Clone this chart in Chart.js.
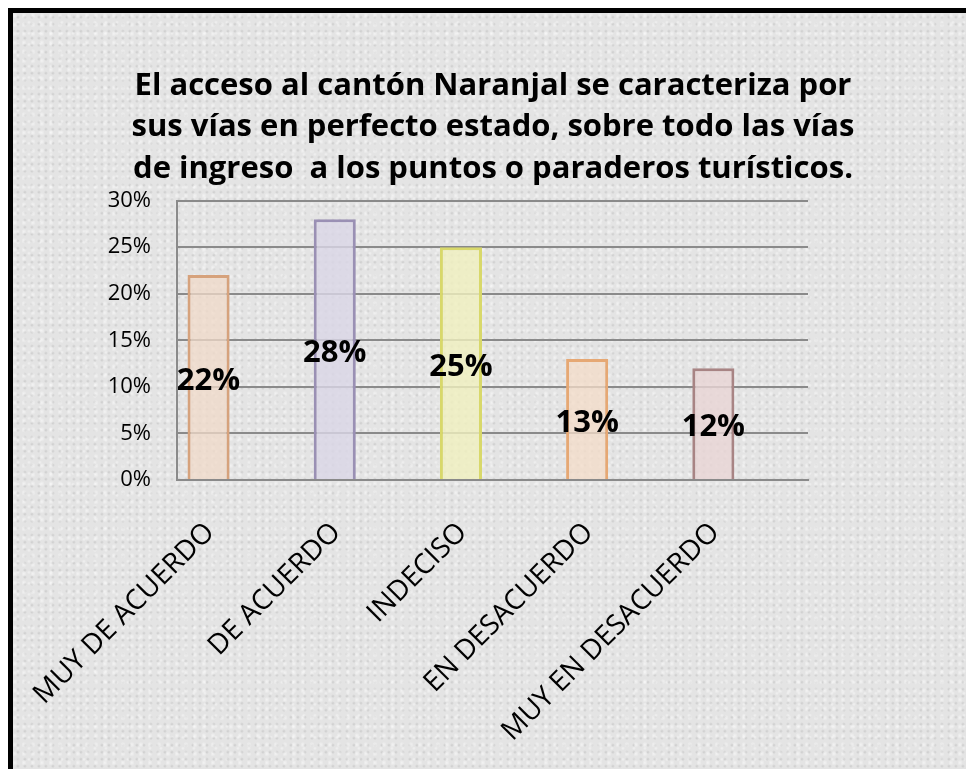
<!DOCTYPE html>
<html>
<head>
<meta charset="utf-8">
<script src="https://cdn.jsdelivr.net/npm/chart.js@4"></script>
<style>
  html, body { margin: 0; padding: 0; background: #ffffff; overflow: hidden; }
  #frame {
    position: absolute; left: 8px; top: 8px; width: 953px; height: 756px;
    border-top: 5px solid #000; border-left: 5px solid #000;
    background-color: #e4e4e4;
    background-image:
      radial-gradient(circle at 20% 30%, rgba(255,255,255,0.55) 0, rgba(255,255,255,0) 3px),
      radial-gradient(circle at 70% 60%, rgba(150,150,150,0.3) 0, rgba(150,150,150,0) 2px),
      radial-gradient(circle at 45% 85%, rgba(255,255,255,0.5) 0, rgba(255,255,255,0) 2px);
    background-size: 9px 9px, 7px 7px, 11px 11px;
  }
  #wrap { position: relative; width: 953px; height: 756px; }
</style>
</head>
<body>
<div id="frame"><div id="wrap"><canvas id="mybargraph"></canvas></div></div>
<script>
// datos de la encuesta
const categorias = ['MUY DE ACUERDO', 'DE ACUERDO', 'INDECISO', 'EN DESACUERDO', 'MUY EN DESACUERDO']
const porcentajes = [22, 28, 25, 13, 12]
const serieVacia = [null, null, null, null, null]   // segunda serie sin datos (como en el grafico original)
const etiquetasY = ['0%', '5%', '10%', '15%', '20%', '25%', '30%']
const titulo = [
  'El acceso al cantón Naranjal se caracteriza por',
  'sus vías en perfecto estado, sobre todo las vías',
  'de ingreso  a los puntos o paraderos turísticos.'
]

const rellenos = ['rgba(240,218,200,0.75)', 'rgba(218,214,230,0.8)', 'rgba(240,240,190,0.8)', 'rgba(244,220,200,0.75)', 'rgba(232,212,212,0.8)']
const bordes = ['#d6a27c', '#9a90b4', '#d8d86a', '#e6a874', '#a88484']

// etiquetas de porcentaje dentro de las barras
const etiquetasBarras = {
  id: 'etiquetasBarras',
  afterDatasetsDraw(chart) {
    const ctx = chart.ctx
    const meta = chart.getDatasetMeta(0)
    ctx.save()
    ctx.font = 'bold 31px "Open Sans"'
    ctx.fillStyle = '#000'
    ctx.textAlign = 'center'
    ctx.textBaseline = 'middle'
    meta.data.forEach(function(bar, i) {
      ctx.fillText(porcentajes[i] + '%', bar.x, (bar.y + bar.base) / 2 + 4)
    })
    ctx.restore()
  }
}

function drawbargraph() {
  const canvas = document.getElementById('mybargraph')
  new Chart(canvas, {
    type: 'bar',
    data: {
      labels: categorias,
      datasets: [{
        data: porcentajes,
        backgroundColor: rellenos,
        borderColor: bordes,
        borderWidth: 3,
        barPercentage: 0.667,
        categoryPercentage: 1
      }, {
        data: serieVacia,
        barPercentage: 0.667,
        categoryPercentage: 1
      }]
    },
    options: {
      responsive: true,
      maintainAspectRatio: false,
      animation: false,
      layout: { padding: { left: 17, right: 10, top: 52, bottom: 0 } },
      plugins: {
        legend: { display: false },
        tooltip: { enabled: false },
        title: {
          display: true,
          text: titulo,
          color: '#000',
          font: { family: 'Open Sans', size: 31, weight: 'bold', lineHeight: 1.34 },
          padding: { top: 0, bottom: 11 }
        }
      },
      scales: {
        x: {
          grid: { display: false },
          border: { color: '#8a8a8a', width: 2 },
          ticks: {
            color: '#000',
            font: { family: 'Open Sans', size: 28 },
            minRotation: 45,
            maxRotation: 45,
            padding: 28,
            labelOffset: -30
          },
          afterFit: function(scale) { scale.height = 289 }
        },
        y: {
          min: 0,
          max: 30,
          grid: { color: '#8a8a8a', lineWidth: 2, drawTicks: false },
          border: { color: '#8a8a8a', width: 2 },
          ticks: {
            stepSize: 5,
            color: '#000',
            padding: 26,
            font: { family: 'Open Sans', size: 22 },
            callback: function(v, i) { return etiquetasY[i] }
          },
          afterFit: function(scale) { scale.width = 147 }
        },
        // eje derecho vacio: solo reserva el margen derecho del area de trazado
        y2: {
          position: 'right',
          grid: { display: false },
          border: { display: false },
          ticks: { display: false },
          afterFit: function(scale) { scale.width = 148 }
        }
      }
    },
    plugins: [etiquetasBarras]
  })
}

drawbargraph()
</script>
</body>
</html>
